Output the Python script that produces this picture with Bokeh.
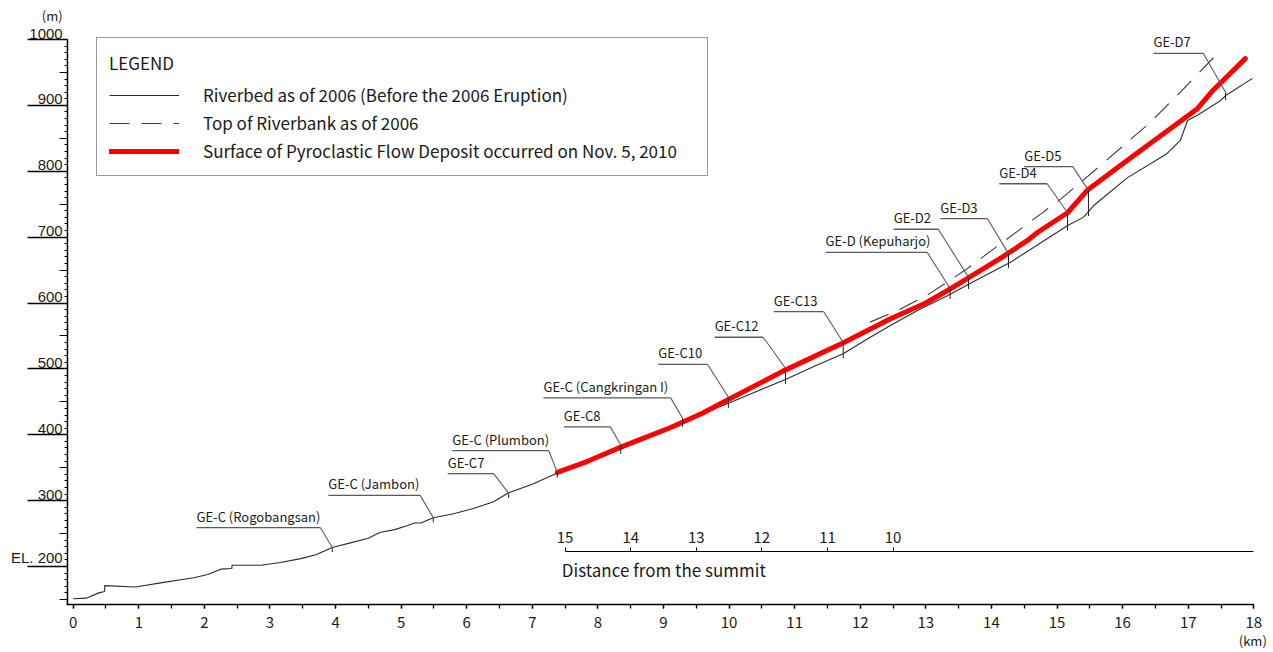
import numpy as np
from bokeh.plotting import figure
from bokeh.models import (LinearAxis, SingleIntervalTicker, FixedTicker, Range1d,
                          Legend, LegendItem, ColumnDataSource)
from bokeh.core.properties import value
from bokeh.embed import file_html
from bokeh.resources import INLINE

# ---------------- data ----------------
# Riverbed as of 2006 (distance km, elevation m)
bed_x = [0.00, 0.20, 0.39, 0.48, 0.48, 0.95, 1.38, 1.64, 1.84, 2.05, 2.25, 2.42, 2.42, 2.86,
         3.16, 3.47, 3.70, 3.95, 4.27, 4.50, 4.62, 4.69, 4.90, 5.09, 5.20, 5.30, 5.49, 5.80,
         6.10, 6.40, 6.64, 7.00, 7.38, 7.80, 8.35, 8.80, 9.29, 9.60, 10.02, 10.40, 10.86,
         11.30, 11.74, 12.10, 12.46, 12.90, 13.33, 13.68, 14.29, 14.70, 15.17, 15.40, 15.56,
         16.07, 16.68, 16.88, 16.99, 17.14, 17.49, 17.57, 17.98]
bed_y = [151, 152, 160, 162, 171, 169, 176, 180, 183, 188, 196, 197, 202, 202,
         206, 212, 218, 229, 237, 243, 249, 252, 256, 262, 266, 266, 274, 280,
         288, 298, 312, 325, 342, 356, 378, 397, 419, 433, 449, 465, 484,
         504, 523, 545, 566, 590, 611, 630, 662, 688, 718, 730, 748,
         790, 827, 847, 877, 885, 907, 915, 941]

# Top of riverbank as of 2006
bank_x = [12.15, 12.60, 13.07, 13.60, 14.14, 14.75, 15.06, 15.56, 16.00, 16.42, 16.90,
          17.41, 17.50]
bank_y = [571, 590, 615, 650, 690, 735, 758, 800, 838, 874, 922, 975, 985]

# Surface of pyroclastic flow deposit (Nov. 5, 2010)
dep_x = [7.38, 7.80, 8.34, 8.60, 9.11, 9.60, 10.02, 10.83, 11.75, 12.46, 13.00, 13.33,
         13.63, 14.14, 14.55, 14.70, 15.16, 15.46, 15.97, 16.58, 17.14, 17.38, 17.87]
dep_y = [343, 358, 381, 391, 411, 433, 455, 497, 540, 576, 600, 619,
         637, 668, 695, 707, 737, 771, 809, 854, 895, 923, 971]

# Cross-section stations
sta_names = ["GE-C (Rogobangsan)", "GE-C (Jambon)", "GE-C7", "GE-C (Plumbon)", "GE-C8",
             "GE-C (Cangkringan I)", "GE-C10", "GE-C12", "GE-C13", "GE-D (Kepuharjo)",
             "GE-D2", "GE-D3", "GE-D4", "GE-D5", "GE-D7"]
sta_x = [3.95, 5.49, 6.64, 7.38, 8.35, 9.29, 9.99, 10.86, 11.74, 13.37, 13.65, 14.26,
         15.16, 15.48, 17.57]
sta_y = [229, 274, 311, 343, 384, 425, 457, 501, 540, 622, 639, 675, 737, 771, 920]

# label placement (underline start / end, underline elevation)
lab_x0 = [1.88, 3.89, 5.71, 5.78, 7.48, 7.17, 8.92, 9.78, 10.68, 11.47, 12.51, 13.22,
          14.12, 14.50, 16.47]
lab_x1 = [3.77, 5.29, 6.41, 7.25, 8.19, 9.11, 9.67, 10.52, 11.44, 13.02, 13.19, 13.94,
          14.85, 15.24, 17.23]
lab_y = [259, 308, 341, 376, 412, 456, 507, 548, 587, 677, 712, 728, 781, 807, 979]

# Axis texts
y_label_vals = [200, 300, 400, 500, 600, 700, 800, 900, 1000]
y_label_text = ["EL. 200", "300", "400", "500", "600", "700", "800", "900", "1000"]
summit_ticks = [15, 14, 13, 12, 11, 10]
SUMMIT_OFFSET = 22.5   # distance from summit = 22.5 - x

# ---------------- layout constants ----------------
X0, X1 = -1.1084, 18.3003
Y0, Y1 = 69.5, 1059.2
AX_X = -0.084      # y-axis location (km)
AX_Y = 142.0       # x-axis location (m)
SUMMIT_Y = 222.8   # elevation where the summit-distance scale is drawn

FONT = "Noto Sans CJK JP"
FONT2 = "Liberation Sans"
TXT = "#1a1a1a"

p = figure(width=1273, height=652, x_range=Range1d(X0, X1), y_range=Range1d(Y0, Y1),
           x_axis_type=None, y_axis_type=None, toolbar_location=None,
           output_backend="svg", min_border=0)
p.outline_line_color = None
p.background_fill_color = "white"
p.border_fill_color = "white"
p.extra_x_ranges = {"summit": Range1d(SUMMIT_OFFSET - X0, SUMMIT_OFFSET - X1)}

# ---------------- axes ----------------
xax = LinearAxis(fixed_location=AX_Y, bounds=(-0.1, 18),
                 ticker=SingleIntervalTicker(interval=1, num_minor_ticks=2))
xax.axis_line_color = "black"
xax.axis_line_width = 1.5
xax.major_tick_out = 4
xax.major_tick_in = 0
xax.minor_tick_out = 4
xax.minor_tick_in = 0
xax.major_tick_line_color = "black"
xax.minor_tick_line_color = "black"
xax.major_tick_line_width = 1.3
xax.minor_tick_line_width = 1.3
xax.major_label_standoff = 8
xax.major_label_text_font = FONT
xax.major_label_text_font_size = "15px"
xax.major_label_text_color = TXT
p.add_layout(xax, "below")

yax = LinearAxis(fixed_location=AX_X, bounds=(AX_Y, 1000),
                 ticker=SingleIntervalTicker(interval=100, num_minor_ticks=10))
yax.axis_line_color = "black"
yax.axis_line_width = 1.5
yax.major_tick_out = 40
yax.major_tick_in = 0
yax.minor_tick_out = 3
yax.minor_tick_in = 0
yax.major_tick_line_width = 1.3
yax.major_tick_line_color = "black"
yax.minor_tick_line_color = "black"
yax.major_label_text_color = None
p.add_layout(yax, "left")

yax50 = LinearAxis(fixed_location=AX_X, bounds=(AX_Y, 1000),
                   ticker=FixedTicker(ticks=list(range(150, 1000, 100)), minor_ticks=[]))
yax50.axis_line_color = None
yax50.major_tick_out = 8
yax50.major_tick_in = 0
yax50.major_tick_line_color = "black"
yax50.major_label_text_color = None
p.add_layout(yax50, "left")

sax = LinearAxis(x_range_name="summit", fixed_location=SUMMIT_Y,
                 bounds=(SUMMIT_OFFSET - 18, 15),
                 ticker=FixedTicker(ticks=summit_ticks, minor_ticks=[]))
sax.axis_line_color = "black"
sax.axis_line_width = 1.2
sax.major_tick_out = 4
sax.major_tick_in = 0
sax.major_tick_line_color = "black"
sax.major_label_standoff = 5
sax.major_label_text_font = FONT
sax.major_label_text_font_size = "15px"
sax.major_label_text_color = TXT
p.add_layout(sax, "above")

# y tick labels (sitting on top of the long tick lines)
p.text(x=[AX_X] * len(y_label_vals), y=y_label_vals, text=y_label_text,
       x_offset=-5, y_offset=-1, text_align="right", text_baseline="bottom",
       text_font=value(FONT2), text_font_size="15px", text_color=TXT)
p.text(x=[AX_X], y=[1000], text=["(m)"], x_offset=-5, y_offset=-24,
       text_align="right", text_baseline="middle",
       text_font=value(FONT), text_font_size="13px", text_color=TXT)
p.text(x=[18], y=[AX_Y], text=["(km)"], x_offset=13, y_offset=36,
       text_align="right", text_baseline="middle",
       text_font=value(FONT), text_font_size="13px", text_color=TXT)
p.text(x=[SUMMIT_OFFSET - 15.05], y=[SUMMIT_Y], text=["Distance from the summit"],
       y_offset=5, text_align="left", text_baseline="top",
       text_font=value(FONT), text_font_size="17px", text_color=TXT)

# ---------------- profiles ----------------
r_bed = p.line(bed_x, bed_y, line_color="#2b2b2b", line_width=1.1)
r_bank = p.line(bank_x, bank_y, line_color="#3a3a3a", line_width=1.1, line_dash="20 12")
r_dep = p.line(dep_x, dep_y, line_color="#ff0000", line_width=5, line_join="round",
               line_cap="round")

# station markers (short vertical lines down to the riverbed)
bed_at = np.interp(sta_x, bed_x, bed_y)
tick_bottom = np.minimum(np.array(sta_y, dtype=float), bed_at) - 7
p.segment(x0=sta_x, y0=sta_y, x1=sta_x, y1=tick_bottom, line_color="#222222", line_width=1)

# labels with underline and leader lines
src = ColumnDataSource(dict(name=sta_names, sx=sta_x, sy=sta_y,
                            x0=lab_x0, x1=lab_x1, ly=lab_y))
p.segment(x0="x0", y0="ly", x1="x1", y1="ly", source=src, line_color="#5a5a5a", line_width=1.3)
p.segment(x0="x1", y0="ly", x1="sx", y1="sy", source=src, line_color="#5a5a5a", line_width=1.1)
p.text(x="x0", y="ly", text="name", source=src, y_offset=-2,
       text_align="left", text_baseline="bottom",
       text_font=value(FONT), text_font_size="13px", text_color=TXT)

# ---------------- legend ----------------
legend = Legend(items=[
    LegendItem(label="Riverbed as of 2006 (Before the 2006 Eruption)", renderers=[r_bed]),
    LegendItem(label="Top of Riverbank as of 2006", renderers=[r_bank]),
    LegendItem(label="Surface of Pyroclastic Flow Deposit occurred on Nov. 5, 2010",
               renderers=[r_dep]),
], location=(96, 476), title="LEGEND")
legend.title_text_font = FONT
legend.title_text_font_size = "17px"
legend.title_text_font_style = "normal"
legend.title_text_color = TXT
legend.title_standoff = 7
legend.label_text_font = FONT
legend.label_text_font_size = "17px"
legend.label_text_color = TXT
legend.padding = 12
legend.margin = 0
legend.spacing = 3
legend.glyph_width = 70
legend.glyph_height = 24
legend.label_height = 24
legend.label_standoff = 24
legend.label_width = 492
legend.border_line_color = "#333333"
legend.border_line_width = 1
legend.background_fill_color = "white"
legend.background_fill_alpha = 1
p.add_layout(legend)

open("out.html", "w").write(file_html(p, INLINE))
